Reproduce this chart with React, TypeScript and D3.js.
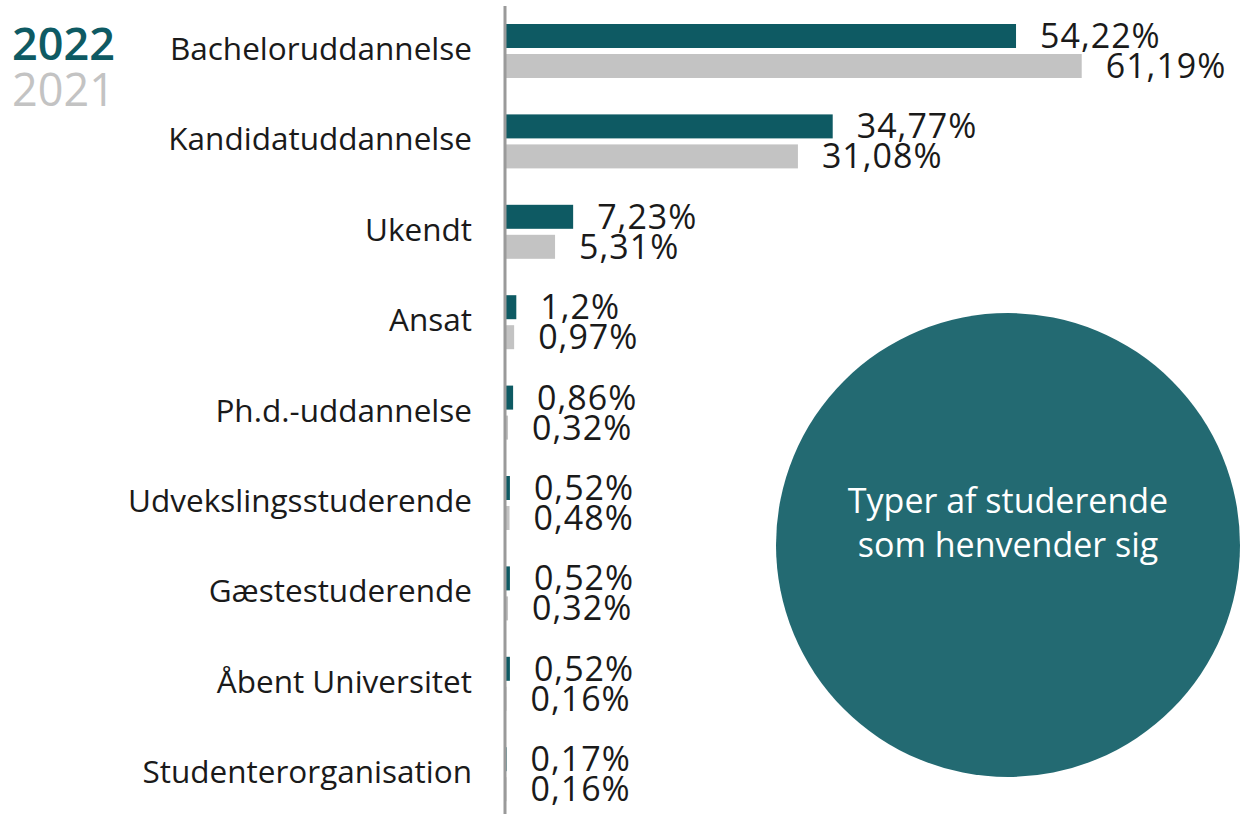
import React from "react";
import * as d3 from "d3";

const categories = [
  "Bacheloruddannelse",
  "Kandidatuddannelse",
  "Ukendt",
  "Ansat",
  "Ph.d.-uddannelse",
  "Udvekslingsstuderende",
  "Gæstestuderende",
  "Åbent Universitet",
  "Studenterorganisation",
];
const values2022 = [54.22, 34.77, 7.23, 1.2, 0.86, 0.52, 0.52, 0.52, 0.17];
const values2021 = [61.19, 31.08, 5.31, 0.97, 0.32, 0.48, 0.32, 0.16, 0.16];
const labels2022 = ["54,22%", "34,77%", "7,23%", "1,2%", "0,86%", "0,52%", "0,52%", "0,52%", "0,17%"];
const labels2021 = ["61,19%", "31,08%", "5,31%", "0,97%", "0,32%", "0,48%", "0,32%", "0,16%", "0,16%"];
const legendYears = ["2022", "2021"];
const circleTitle = ["Typer af studerende", "som henvender sig"];

const W = 1242;
const H = 814;
const FONT = "'Open Sans', 'Noto Sans', sans-serif";
const C2022 = "#0e5a63";
const C2021 = "#c3c3c3";
const CCIRCLE = "#236a72";

export default function App() {
  const x0 = 505;
  const x = d3.scaleLinear().domain([0, 100]).range([x0, x0 + 942.5]);
  const y = d3.scaleBand<string>().domain(categories).range([6, 6 + 9 * 90.4]).padding(0);
  const barH = 24;
  const gap = 6;
  const off = 18;

  return (
    <svg width={W} height={H} style={{ position: "absolute", left: 0, top: 0, background: "#fff" }}>
      <g fontFamily={FONT}>
        {categories.map((c, i) => {
          const top = (y(c) as number) + off;
          const center = top + barH + gap / 2;
          return (
            <g key={c}>
              <text x={472} y={center + 9} textAnchor="end" fontSize={31.5} fill="#1a1a1a">
                {c}
              </text>
              <rect x={x0} y={top} width={x(values2022[i]) - x0} height={barH} fill={C2022} />
              <rect x={x0} y={top + barH + gap} width={x(values2021[i]) - x0} height={barH} fill={C2021} />
              <text x={x(values2022[i]) + 24} y={top + barH} fontSize={34} letterSpacing={1} fill="#1a1a1a">
                {labels2022[i]}
              </text>
              <text x={x(values2021[i]) + 24} y={top + 2 * barH + gap} fontSize={34} letterSpacing={1} fill="#1a1a1a">
                {labels2021[i]}
              </text>
            </g>
          );
        })}
        <line x1={x0} x2={x0} y1={6} y2={H} stroke="#9a9a9a" strokeWidth={3} />
        <text x={12} y={60} fontSize={45} fontWeight={600} fill={C2022}>
          {legendYears[0]}
        </text>
        <text x={12} y={106} fontSize={45} fill={C2021}>
          {legendYears[1]}
        </text>
        <circle cx={1008} cy={545} r={232} fill={CCIRCLE} />
        <text x={1008} y={513} textAnchor="middle" fontSize={34} fill="#fff">
          {circleTitle[0]}
        </text>
        <text x={1008} y={557} textAnchor="middle" fontSize={34} fill="#fff">
          {circleTitle[1]}
        </text>
      </g>
    </svg>
  );
}
